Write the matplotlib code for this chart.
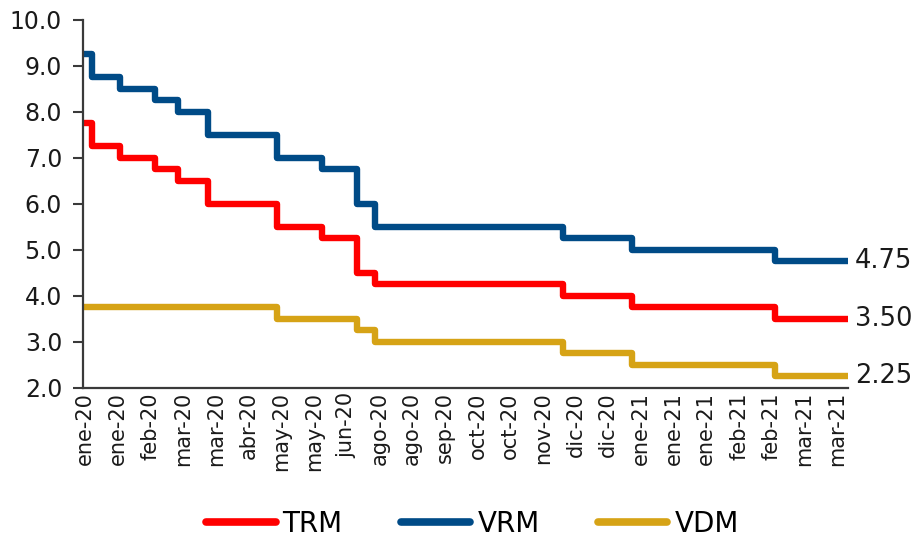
import matplotlib.pyplot as plt
from matplotlib.lines import Line2D

# tasas de política (%), escalones por fecha de decisión
x_labels = ['ene-20', 'ene-20', 'feb-20', 'mar-20', 'mar-20', 'abr-20', 'may-20', 'may-20',
            'jun-20', 'ago-20', 'ago-20', 'sep-20', 'oct-20', 'oct-20', 'nov-20', 'dic-20',
            'dic-20', 'ene-21', 'ene-21', 'ene-21', 'feb-21', 'feb-21', 'mar-21', 'mar-21']
step_x = [-0.06, 0.21, 1.07, 2.14, 2.84, 3.76, 5.87, 7.25, 8.32, 8.87, 14.62, 16.73, 21.10, 23.33]
trm = [7.75, 7.25, 7.00, 6.75, 6.50, 6.00, 5.50, 5.25, 4.50, 4.25, 4.00, 3.75, 3.50, 3.50]
vrm = [9.25, 8.75, 8.50, 8.25, 8.00, 7.50, 7.00, 6.75, 6.00, 5.50, 5.25, 5.00, 4.75, 4.75]
vdm = [3.75, 3.75, 3.75, 3.75, 3.75, 3.75, 3.50, 3.50, 3.25, 3.00, 2.75, 2.50, 2.25, 2.25]
y_ticks = [2.0, 3.0, 4.0, 5.0, 6.0, 7.0, 8.0, 9.0, 10.0]

series = [('TRM', trm, '#ff0000'), ('VRM', vrm, '#004b87'), ('VDM', vdm, '#d6a316')]
txt = '#1a1a1a'

fig = plt.figure(figsize=(9.21, 5.40), dpi=100)
ax = fig.add_axes([0.0901, 0.2815, 0.8306, 0.6815])

for name, vals, col in series:
    ax.plot(step_x, vals, drawstyle='steps-post', color=col, lw=4.6,
            solid_joinstyle='round', solid_capstyle='butt', clip_on=False)
    ax.annotate(f'{vals[-1]:.2f}', xy=(step_x[-1], vals[-1]), xytext=(5, 0),
                textcoords='offset points', va='center', ha='left',
                fontsize=18.5, color=txt, family='DejaVu Sans')

ax.set_xlim(step_x[0], step_x[-1])
ax.set_ylim(2.0, 10.0)
ax.set_yticks(y_ticks)
ax.set_yticklabels([f'{v:.1f}' for v in y_ticks], fontsize=17, color=txt)
ax.set_xticks(range(len(x_labels)))
ax.set_xticklabels(x_labels, rotation=90, fontsize=15, color=txt)

for s in ['top', 'right']:
    ax.spines[s].set_visible(False)
for s in ['left', 'bottom']:
    ax.spines[s].set_color('#3a3a3a')
    ax.spines[s].set_linewidth(1.6)
ax.tick_params(axis='y', direction='out', length=7, width=1.5, color='#3a3a3a', pad=8)
ax.tick_params(axis='x', length=0, pad=3)

handles = [Line2D([0], [0], color=col, lw=5.5, solid_capstyle='round') for _, _, col in series]
fig.legend(handles, [n for n, _, _ in series], loc='center', bbox_to_anchor=(0.513, 0.03),
           ncol=3, frameon=False, handlelength=2.5, handletextpad=0.25, columnspacing=2.1,
           borderpad=0, prop={'family': 'DejaVu Sans', 'size': 20})

fig.savefig('out.png', dpi=100)
